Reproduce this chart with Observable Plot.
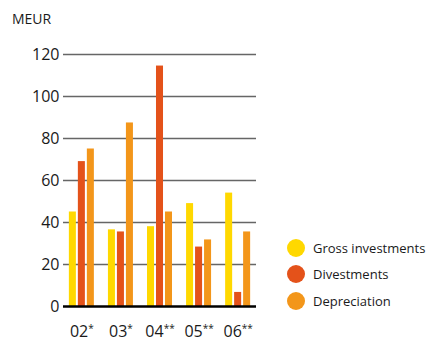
<!DOCTYPE html>
<html>
<head>
<meta charset="utf-8">
<script src="https://cdn.jsdelivr.net/npm/d3@7"></script>
<script src="https://cdn.jsdelivr.net/npm/@observablehq/plot@0.6"></script>
<style>
  html, body { margin: 0; padding: 0; background: #fff; }
  #wrap { position: relative; width: 430px; height: 337px; font-family: "Open Sans", sans-serif; color: #1a1a1a; overflow: hidden; }
  #unit { position: absolute; left: 12px; top: 9px; font-size: 14px; }
  #legend { position: absolute; left: 287px; top: 234.5px; font-size: 13px; }
  .item { display: flex; align-items: center; height: 26.5px; }
  .sw { width: 18px; height: 18px; border-radius: 50%; margin-right: 8px; }
  .layer { position: absolute; left: 0; top: 0; }
</style>
</head>
<body>
<div id="wrap">
  <div id="grid" class="layer"></div>
  <div id="bars" class="layer"></div>
  <div id="base" class="layer"></div>
  <div id="unit">MEUR</div>
  <div id="legend"></div>
</div>
<script>
const years = ["02*", "03*", "04**", "05**", "06**"];
const series = ["Gross investments", "Divestments", "Depreciation"];
const gross = [45, 36.5, 38, 49, 54];
const divest = [69, 35.5, 114.5, 28.3, 6.7];
const deprec = [75, 87.4, 45, 31.7, 35.5];
const yTicks = [0, 20, 40, 60, 80, 100, 120];
const colors = ["#FFD800", "#E4521A", "#F3961A"];

const values = [gross, divest, deprec];
const data = [];
years.forEach((yr, i) => {
  series.forEach((s, j) => data.push({year: yr, series: s, value: values[j][i]}));
});

const common = {
  width: 430,
  height: 337,
  marginLeft: 63,
  marginRight: 174,
  marginTop: 54,
  marginBottom: 31,
  style: {fontFamily: "Open Sans, sans-serif", fontSize: "16px", color: "#1a1a1a", background: "transparent"}
};

// layer 1: gridlines and y tick labels
const gridPlot = Plot.plot({
  ...common,
  y: {domain: [0, 120], ticks: yTicks, label: null, tickSize: 0, tickPadding: 4},
  marks: [
    Plot.ruleY(yTicks.filter(d => d > 0), {stroke: "#666", strokeWidth: 1.3})
  ]
});

// layer 2: grouped bars
const barPlot = Plot.plot({
  ...common,
  x: {domain: series, paddingInner: 0.22, paddingOuter: 0, round: false, axis: null},
  fx: {domain: years, paddingInner: 0.36, paddingOuter: 0.15, round: false, label: null, tickSize: 0, tickPadding: 19},
  y: {domain: [0, 120], axis: null},
  color: {domain: series, range: colors},
  marks: [
    Plot.barY(data, {fx: "year", x: "series", y: "value", fill: "series"})
  ]
});

// layer 3: baseline at zero
const basePlot = Plot.plot({
  ...common,
  y: {domain: [0, 120], axis: null},
  marks: [
    Plot.ruleY([0], {stroke: "#000", strokeWidth: 2.5})
  ]
});

// small raised asterisks on the year labels
d3.select(barPlot).selectAll("text").each(function () {
  const t = this.textContent;
  if (!t.includes("*")) return;
  const num = t.replace(/\*/g, "");
  const stars = t.slice(num.length);
  const sel = d3.select(this);
  sel.text(null);
  sel.append("tspan").text(num);
  sel.append("tspan").attr("font-size", "10px").attr("dy", "-0.45em").text(stars);
});

document.getElementById("grid").appendChild(gridPlot);
document.getElementById("bars").appendChild(barPlot);
document.getElementById("base").appendChild(basePlot);

const legend = document.getElementById("legend");
series.forEach((s, i) => {
  const item = document.createElement("div");
  item.className = "item";
  item.innerHTML = `<span class="sw" style="background:${colors[i]}"></span><span>${s}</span>`;
  legend.appendChild(item);
});
</script>
</body>
</html>
